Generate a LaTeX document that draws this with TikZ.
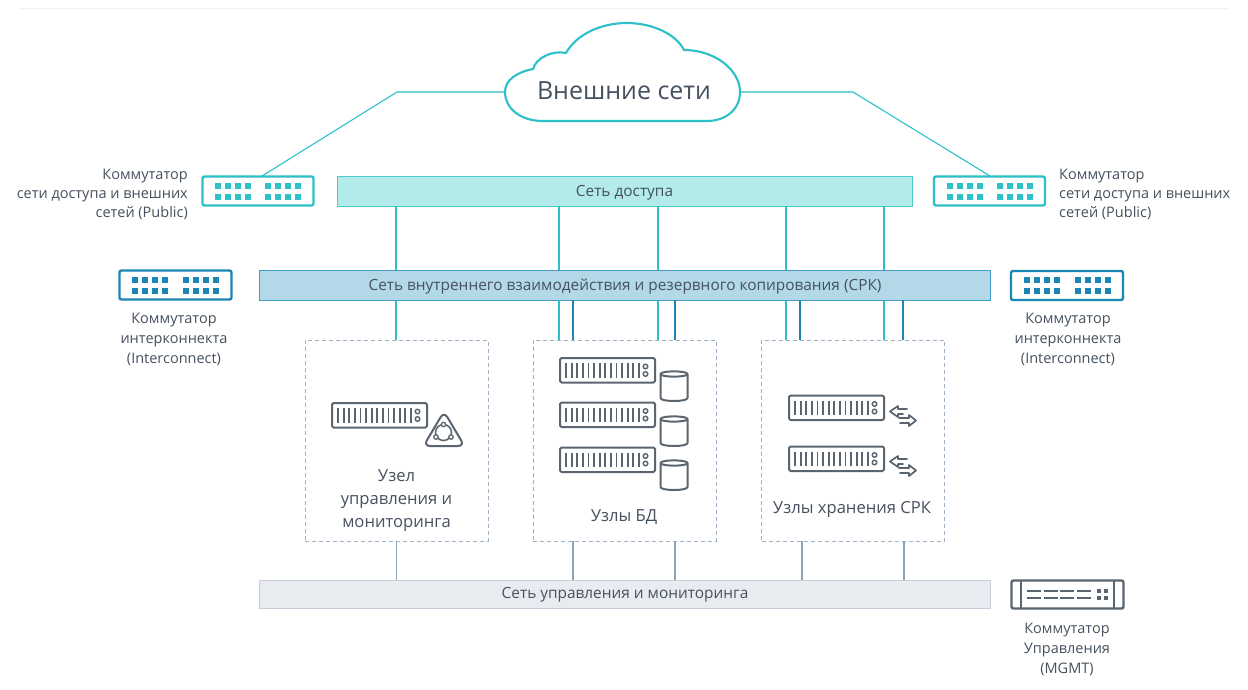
\documentclass[tikz,border=0pt]{standalone}
\usepackage{fontspec}
\setmainfont{Open Sans}
\definecolor{teal}{HTML}{2CC0C8}
\definecolor{tealfill}{HTML}{B2EBE9}
\definecolor{tealedge}{HTML}{4CCBCB}
\definecolor{bluesw}{HTML}{1A86B4}
\definecolor{bluefill}{HTML}{B3D9E8}
\definecolor{blueedge}{HTML}{3F9CC2}
\definecolor{grayfill}{HTML}{E8EBF0}
\definecolor{grayedge}{HTML}{C6CDD8}
\definecolor{graylink}{HTML}{8FA3B5}
\definecolor{dashc}{HTML}{9DB2C6}
\definecolor{ink}{HTML}{46515F}
\definecolor{icon}{HTML}{5A6570}
\tikzset{
  netbar/.style={draw,inner sep=0pt,outer sep=0pt,text=ink,font=\fontsize{15.4}{15}\selectfont,line width=1pt,text height=12pt,text depth=2pt},
  swbox/.style={draw,rounded corners=2pt,inner sep=0pt,outer sep=0pt,minimum width=111pt,minimum height=29pt,line width=2.4pt,fill=white},
  nodebox/.style={draw=dashc,dashed,dash pattern=on 4pt off 3pt,line width=1pt,inner sep=0pt,outer sep=0pt,minimum width=183pt,minimum height=201pt},
  lbl/.style={text=ink,font=\fontsize{14.5}{20}\selectfont,inner sep=0pt,align=center},
  lblr/.style={lbl,font=\fontsize{14.5}{19}\selectfont,align=right,anchor=north east},
  lbll/.style={lbl,font=\fontsize{14.5}{19}\selectfont,align=left,anchor=north west},
  nlbl/.style={text=ink,font=\fontsize{16.6}{23}\selectfont,inner sep=0pt,align=center},
  iconline/.style={draw=icon,line width=2pt,line join=round,line cap=round},
  link/.style={line width=1.1pt},
}
\newcommand{\swdots}[4]{% centre x, centre y, dx half group, colour
  \foreach \g in {-1,1}{\foreach \i in {0,1,2,3}{\foreach \r in {-5.5,5.5}{
    \fill[#4] ({#1+\g*(#3)+(\i-1.5)*10-3},{#2+\r-3}) rectangle +(6,6);}}}}
\newcommand{\srvicon}[2]{% top-left x, y
  \draw[iconline,rounded corners=1.5pt] (#1,#2) rectangle +(95,24.5);
  \foreach \i in {0,...,13}{\draw[draw=icon,line width=1.8pt] ({#1+6+\i*5.6},{#2+5}) -- +(0,14.5);}
  \draw[draw=icon,line width=1.4pt] ({#1+85.5},{#2+8.5}) circle (2.3);
  \draw[draw=icon,line width=1.4pt] ({#1+85.5},{#2+16}) circle (2.3);}
\newcommand{\cyl}[2]{% left x, top y
  \draw[iconline] (#1,{#2+4}) .. controls (#1,{#2+0.5}) and ({#1+27},{#2+0.5}) .. ({#1+27},{#2+4})
    .. controls ({#1+27},{#2+7.5}) and (#1,{#2+7.5}) .. (#1,{#2+4})
    -- (#1,{#2+28}) .. controls (#1,{#2+32}) and ({#1+27},{#2+32}) .. ({#1+27},{#2+28}) -- ({#1+27},{#2+4});}
\newcommand{\xarrows}[2]{% left x, top y
  \draw[iconline,line width=1.7pt] ({#1+17},{#2+4}) -- ({#1+8},{#2+4}) -- ({#1+8},{#2+1}) -- (#1,{#2+6.5}) -- ({#1+8},{#2+12}) -- ({#1+8},{#2+9}) -- ({#1+13},{#2+9});
  \draw[iconline,line width=1.7pt] ({#1+9},{#2+13}) -- ({#1+19},{#2+13}) -- ({#1+19},{#2+10}) -- ({#1+26},{#2+15.5}) -- ({#1+19},{#2+21}) -- ({#1+19},{#2+18}) -- ({#1+10},{#2+18});}
\begin{document}
\begin{tikzpicture}[x=1pt,y=-1pt]
\useasboundingbox (0,0) rectangle (1248,689);
\fill[white] (0,0) rectangle (1248,689);
\draw[draw=black!5,line width=0.8pt] (20,8.5) -- (1228,8.5);

% cloud
\coordinate (cloudL) at (505,92);
\coordinate (cloudR) at (740,92);
\coordinate (bendL) at (397,92);
\coordinate (bendR) at (853,92);
\coordinate (tapL) at (262,176);
\coordinate (tapR) at (990,176);
\draw[draw=teal,link] (cloudL) -- (bendL) -- (tapL);
\draw[draw=teal,link] (cloudR) -- (bendR) -- (tapR);
\draw[draw=teal,line width=2.1pt,fill=white]
  (cloudL) .. controls (505,80) and (517,72) .. (533,69)
  .. controls (536,58) and (552,50) .. (566,53)
  .. controls (576,35) and (600,23) .. (627,23)
  .. controls (652,23) and (676,34) .. (684,50)
  .. controls (715,50) and (740,70) .. (cloudR)
  .. controls (740,110) and (725,121) .. (707,121)
  -- (543,121) .. controls (520,121) and (505,108) .. (cloudL) -- cycle;
\node[text=ink,font=\fontsize{25}{25}\selectfont,inner sep=0pt] (cloud) at (624,90.5) {Внешние сети};

% bars
\node[netbar,draw=tealedge,fill=tealfill,minimum width=575pt,minimum height=30pt] (access) at (624.5,191) {Сеть доступа};
\node[netbar,draw=blueedge,fill=bluefill,minimum width=731pt,minimum height=30pt] (srk) at (625,285) {Сеть внутреннего взаимодействия и резервного копирования (СРК)};
\node[netbar,draw=grayedge,fill=grayfill,minimum width=731pt,minimum height=28pt,text height=11pt] (mgmt) at (625,594) {Сеть управления и мониторинга};

% node boxes
\node[nodebox] (n1) at (396.5,440.5) {};
\node[nodebox] (n2) at (624.5,440.5) {};
\node[nodebox] (n3) at (853,440.5) {};

% connectors
\foreach \x in {396,559,658,786,884}{
  \draw[draw=teal,link] (\x,0 |- access.south) -- (\x,0 |- srk.north);
  \draw[draw=teal,link] (\x,0 |- srk.south) -- (\x,0 |- n1.north);}
\foreach \x in {573,675,800,903}
  \draw[draw=bluesw,link] (\x,0 |- srk.south) -- (\x,0 |- n1.north);
\foreach \x in {396.5,573,675,802,904}
  \draw[draw=graylink,link] (\x,0 |- n1.south) -- (\x,0 |- mgmt.north);

% switches
\node[swbox,draw=teal] (swA) at (258,191) {};
\swdots{258}{191}{25}{teal}
\node[swbox,draw=teal] (swB) at (989.5,191) {};
\swdots{989.5}{191}{25}{teal}
\node[swbox,draw=bluesw,minimum width=112pt] (swC) at (175.5,285) {};
\swdots{175.5}{285}{25.5}{bluesw}
\node[swbox,draw=bluesw,minimum width=112pt] (swD) at (1067,285.5) {};
\swdots{1067}{285.5}{25.5}{bluesw}
\node[swbox,draw=icon,minimum width=112pt,minimum height=28pt] (swE) at (1067.5,594.5) {};
\draw[draw=icon,line width=2pt] (1021,580) -- (1021,609) (1114,580) -- (1114,609);
\foreach \x in {1027,1043.5,1060,1076.5}\foreach \y in {591,598}
  \draw[draw=icon,line width=2.4pt] (\x,\y) -- +(14,0);
\foreach \x in {1097,1103.5}\foreach \y in {591,598}
  \fill[icon] (\x,{\y-2}) rectangle +(4,4);

% switch labels
\node[lblr] (t1) at (188,168.5) {Коммутатор\\сети доступа и внешних\\сетей (Public)};
\node[lbll] (t2) at (1059,168.5) {Коммутатор\\сети доступа и внешних\\сетей (Public)};
\node[lbl] (t3) at (174,339) {Коммутатор\\интерконнекта\\(Interconnect)};
\node[lbl] (t4) at (1068,339) {Коммутатор\\интерконнекта\\(Interconnect)};
\node[lbl] (t5) at (1067,649) {Коммутатор\\Управления\\(MGMT)};

% node labels
\node[nlbl] (l1) at (396.5,500.5) {Узел\\управления и\\мониторинга};
\node[nlbl] (l2) at (624,517) {Узлы БД};
\node[nlbl] (l3) at (852,509) {Узлы хранения СРК};

% icons
\srvicon{332}{403}
\draw[iconline,rounded corners=6.5pt] (444,411.5) -- (464.5,446) -- (423.5,446) -- cycle;
\draw[draw=icon,line width=1.5pt] (443.5,432.5) circle (8);
\foreach \p in {(443.5,424.5),(436,437),(451,437)}\draw[draw=icon,fill=white,line width=1.3pt] \p circle (2.2);
\srvicon{560}{358}
\srvicon{560}{402.5}
\srvicon{560}{447.5}
\cyl{660.5}{370}
\cyl{660.5}{415}
\cyl{660.5}{459}
\srvicon{789}{395.5}
\srvicon{789}{446.5}
\xarrows{890}{405}
\xarrows{890}{455}
\end{tikzpicture}
\end{document}
